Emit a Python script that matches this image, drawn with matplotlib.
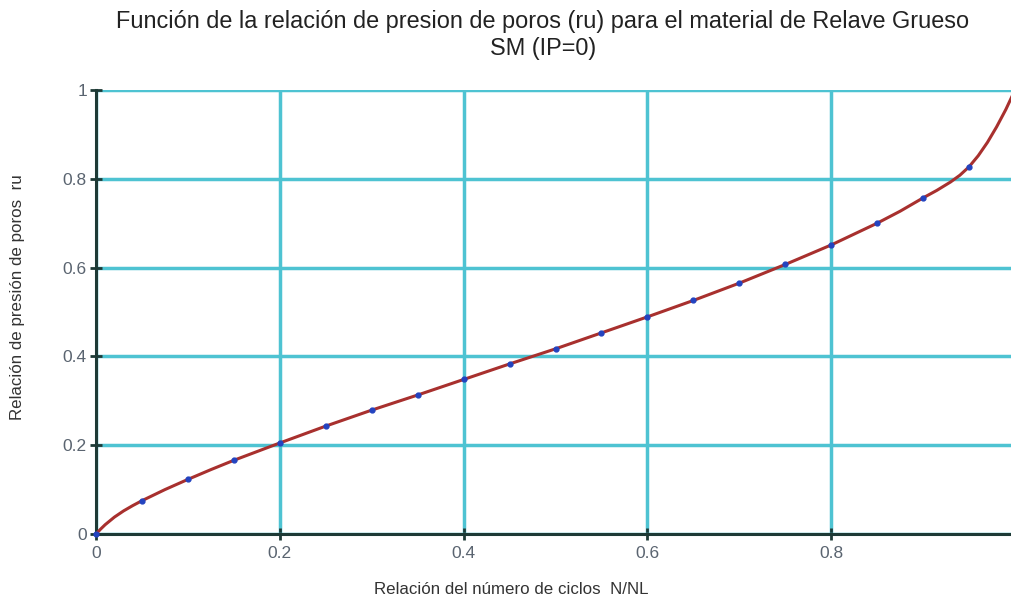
import matplotlib
matplotlib.use("Agg")
import matplotlib.pyplot as plt

# Data
pts_x = [0.0, 0.05, 0.10, 0.15, 0.20, 0.25, 0.30, 0.35, 0.40, 0.45, 0.50,
         0.55, 0.60, 0.65, 0.70, 0.75, 0.80, 0.85, 0.90, 0.95]
pts_y = [0.0, 0.075, 0.123, 0.166, 0.205, 0.243, 0.279, 0.313, 0.348, 0.383, 0.417,
         0.453, 0.489, 0.526, 0.565, 0.607, 0.651, 0.700, 0.757, 0.827]

curve_x = [0.0, 0.005, 0.01, 0.02, 0.03, 0.04, 0.05, 0.075, 0.10, 0.125, 0.15, 0.20, 0.25,
           0.30, 0.35, 0.40, 0.45, 0.50, 0.55, 0.60, 0.65, 0.70, 0.75, 0.80, 0.85,
           0.875, 0.90, 0.915, 0.93, 0.94, 0.95, 0.96, 0.97, 0.98, 0.99, 1.0]
curve_y = [0.0, 0.011, 0.021, 0.038, 0.052, 0.064, 0.075, 0.100, 0.123, 0.145, 0.166, 0.205,
           0.243, 0.279, 0.313, 0.348, 0.383, 0.417, 0.453, 0.489, 0.526, 0.565, 0.607,
           0.651, 0.700, 0.727, 0.757, 0.774, 0.793, 0.808, 0.827, 0.852, 0.882, 0.917,
           0.956, 1.0]

ticks = [0, 0.2, 0.4, 0.6, 0.8, 1]
tick_labels = ["0", "0.2", "0.4", "0.6", "0.8", "1"]

title = "Función de la relación de presion de poros (ru) para el material de Relave Grueso\nSM (IP=0)"
xlabel = "Relación del número de ciclos  N/NL"
ylabel = "Relación de presión de poros  ru"

plt.rcParams['font.family'] = ['Liberation Sans', 'DejaVu Sans']

fig = plt.figure(figsize=(10.11, 6.03), dpi=100)
ax = fig.add_axes([96/1011, 1 - 534/603, 919/1011, 444/603])

grid_c = "#4ec3d2"
ax.set_xlim(0, 1)
ax.set_ylim(0, 1)
ax.set_xticks(ticks)
ax.set_yticks(ticks)
ax.set_xticklabels(tick_labels[:-1] + [""])
ax.set_yticklabels(tick_labels)
ax.grid(True, color=grid_c, linewidth=2.5)
ax.set_axisbelow(True)

for s in ["top", "right"]:
    ax.spines[s].set_visible(False)
for s in ["left", "bottom"]:
    ax.spines[s].set_color("#1e3a36")
    ax.spines[s].set_linewidth(2.2)
    ax.spines[s].set_zorder(3)

ax.tick_params(axis="both", direction="inout", length=9, width=2, color="#1e3a36",
               labelsize=12.5, labelcolor="#5a6470", pad=2)
ax.tick_params(axis="x", pad=4)

ax.plot(curve_x, curve_y, color="#a8302e", linewidth=2.2, zorder=4, clip_on=False)
ax.plot(pts_x, pts_y, "o", color="#2343c0", markersize=3.5, zorder=5, clip_on=False)

fig.text(0.537, 1 - 35/603, title, ha="center", va="center", fontsize=16.9,
         color="#222222", linespacing=1.2)
fig.text(511/1011, 1 - 590/603, xlabel, ha="center", va="center", fontsize=12.2,
         color="#333333")
fig.text(18/1011, 1 - 297/603, ylabel, ha="center", va="center", fontsize=12.2,
         color="#333333", rotation=90)

fig.savefig("out.png", dpi=100)
